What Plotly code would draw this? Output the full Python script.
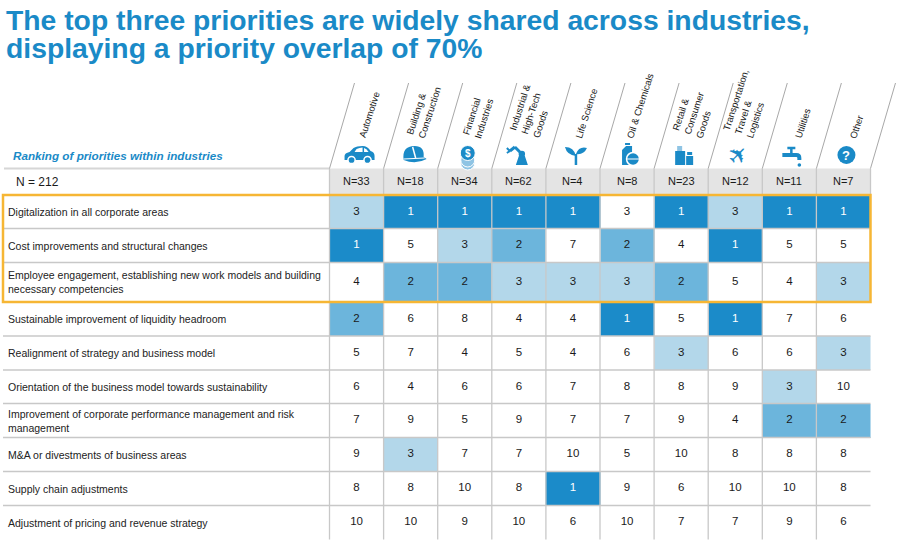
import re
import plotly.graph_objects as go

# ---- data ----
industries = ["Automotive", "Building &<br>Construction", "Financial<br>Industries",
              "Industrial &<br>High-Tech<br>Goods", "Life Science", "Oil & Chemicals",
              "Retail &<br>Consumer<br>Goods", "Transportation,<br>Travel &<br>Logistics",
              "Utilities", "Other"]
sample_sizes = [33, 18, 34, 62, 4, 8, 23, 12, 11, 7]
total_n = 212

priorities = [
    "Digitalization in all corporate areas",
    "Cost improvements and structural changes",
    "Employee engagement, establishing new work models and building<br>necessary competencies",
    "Sustainable improvement of liquidity headroom",
    "Realignment of strategy and business model",
    "Orientation of the business model towards sustainability",
    "Improvement of corporate performance management and risk<br>management",
    "M&A or divestments of business areas",
    "Supply chain adjustments",
    "Adjustment of pricing and revenue strategy",
]
# rank of each priority (rows) within each industry (columns)
ranks = [
    [3, 1, 1, 1, 1, 3, 1, 3, 1, 1],
    [1, 5, 3, 2, 7, 2, 4, 1, 5, 5],
    [4, 2, 2, 3, 3, 3, 2, 5, 4, 3],
    [2, 6, 8, 4, 4, 1, 5, 1, 7, 6],
    [5, 7, 4, 5, 4, 6, 3, 6, 6, 3],
    [6, 4, 6, 6, 7, 8, 8, 9, 3, 10],
    [7, 9, 5, 9, 7, 7, 9, 4, 2, 2],
    [9, 3, 7, 7, 10, 5, 10, 8, 8, 8],
    [8, 8, 10, 8, 1, 9, 6, 10, 10, 8],
    [10, 10, 9, 10, 6, 10, 7, 7, 9, 6],
]
# top-3 ranks that the source leaves unshaded (row, column)
unshaded = [(0, 5)]
top_group = 3  # first three priorities are framed

title_lines = ["The top three priorities are widely shared across industries,",
               "displaying a priority overlap of 70%"]
subtitle = "Ranking of priorities within industries"

# ---- layout constants (pixels) ----
W, H = 900, 543
X0, CW = 329.5, 54.1
TABLE_TOP = 195
ROW_H = [33.5, 34, 39.5, 34, 34, 33.5, 34, 34, 34, 34]
NROW_TOP, NROW_BOT = 168.5, 194
BLUE = "#1a8ac7"
DARK, MID, LIGHT = "#1b8bc9", "#6cb5dc", "#b3d7ea"
GRID = "#c8c8c8"
ORANGE = "#f6b634"
FONT = "Arial, Liberation Sans, sans-serif"

ncol = len(industries)
xe = [X0 + i * CW for i in range(ncol + 1)]
ye = [TABLE_TOP]
for h in ROW_H:
    ye.append(ye[-1] + h)
cx = [(xe[i] + xe[i + 1]) / 2 for i in range(ncol)]
cy = [(ye[j] + ye[j + 1]) / 2 for j in range(len(priorities))]

shade = [[10 if (j, i) in unshaded else r for i, r in enumerate(row)] for j, row in enumerate(ranks)]

fig = go.Figure()

# cells coloured by rank: 1 dark, 2 mid, 3 light, others white
colorscale = [[0, DARK], [0.055, DARK], [0.056, MID], [0.166, MID],
              [0.167, LIGHT], [0.277, LIGHT], [0.278, "white"], [1, "white"]]
fig.add_trace(go.Heatmap(x=xe, y=ye, z=shade, zmin=1, zmax=10, colorscale=colorscale,
                         showscale=False, hoverinfo="skip"))

tx, ty, tt, tc = [], [], [], []
for j, row in enumerate(ranks):
    for i, r in enumerate(row):
        tx.append(cx[i]); ty.append(cy[j]); tt.append(str(r))
        tc.append("white" if r == 1 else "#1a1a1a")
fig.add_trace(go.Scatter(x=tx, y=ty, text=tt, mode="text", hoverinfo="skip",
                         textfont=dict(family=FONT, size=11.5, color=tc)))

shapes = []
# N row band
shapes.append(dict(type="rect", x0=xe[0], x1=xe[-1], y0=NROW_TOP, y1=NROW_BOT,
                   fillcolor="#e4e4e4", line=dict(width=0), layer="below"))
shapes.append(dict(type="line", x0=4, x1=xe[0], y0=NROW_TOP, y1=NROW_TOP,
                   line=dict(color="#d6d6d6", width=2)))
# grid
for y in ye[1:-1]:
    shapes.append(dict(type="line", x0=3, x1=xe[-1], y0=y, y1=y, line=dict(color=GRID, width=1.3)))
for x in xe[:-1]:
    shapes.append(dict(type="line", x0=x, x1=x, y0=NROW_TOP, y1=ye[-1], line=dict(color=GRID, width=1.3)))
shapes.append(dict(type="line", x0=xe[-1], x1=xe[-1], y0=NROW_TOP, y1=NROW_BOT,
                   line=dict(color=GRID, width=1.3)))
# slanted header dividers
for x in xe:
    shapes.append(dict(type="line", x0=x, x1=x + 25, y0=NROW_TOP, y1=83,
                       line=dict(color="#a8a8a8", width=1)))
# frame round the top three
shapes.append(dict(type="rect", x0=3, x1=xe[-1], y0=ye[0], y1=ye[top_group],
                   line=dict(color=ORANGE, width=2.5)))


# ---- icons ----
def tp(cmd, ox, oy, s=1.0):
    toks = re.findall(r"[A-Za-z]|-?\d+\.?\d*", cmd)
    out, nums = [], []
    for t in toks:
        if t.isalpha():
            out.append(t)
        else:
            nums.append(float(t))
            if len(nums) == 2:
                out.append(f"{ox + nums[0] * s:.2f},{oy + nums[1] * s:.2f}")
                nums = []
    return " ".join(out)


def path(cmd, ox, oy, fill=BLUE, line_color=None, lw=0):
    shapes.append(dict(type="path", path=tp(cmd, ox, oy), fillcolor=fill,
                       line=dict(color=line_color or fill, width=lw)))


def circ(x, y, r, ox, oy, fill=BLUE, line_color=None, lw=0):
    shapes.append(dict(type="circle", x0=ox + x - r, x1=ox + x + r, y0=oy + y - r, y1=oy + y + r,
                       fillcolor=fill, line=dict(color=line_color or fill, width=lw)))


def seg(x0, y0, x1, y1, ox, oy, w=3, color=BLUE):
    shapes.append(dict(type="line", x0=ox + x0, y0=oy + y0, x1=ox + x1, y1=oy + y1,
                       line=dict(color=color, width=w)))


IY = 155
ix = [c + 3 for c in cx]
annotations = []

# car
o = ix[0]
path("M -15 5 L -15 1 Q -15 -2 -10 -3 L -6 -7 Q -3 -9 3 -9 Q 8 -9 11 -4 Q 15 -3 15 1 L 15 5 Z", o, IY)
path("M -5 -3 L -3 -6 Q 0 -7.5 3 -7.5 L 3 -3 Z", o, IY, fill="white")
path("M 4.5 -3 L 4.5 -7 Q 7 -6.5 9 -3 Z", o, IY, fill="white")
circ(-8, 5, 3.6, o, IY, line_color="white", lw=1.5)
circ(8, 5, 3.6, o, IY, line_color="white", lw=1.5)
# helmet
o = ix[1]
path("M -10 5 Q -12 -9 1 -9 Q 11 -9 10 2 L 13 4 Q 2 10 -10 5 Z", o, IY)
seg(-1, -8, 2, 3, o, IY, w=1.5, color="white")
seg(-10, 4, 11, 3, o, IY, w=1.2, color="white")
# coins
o = ix[2]
circ(0, 8, 7, o, IY, fill="#8fc4e4", line_color="white", lw=1)
circ(0, 5, 7, o, IY, fill="#8fc4e4", line_color="white", lw=1)
circ(0, -2, 7.5, o, IY, line_color="white", lw=1)
annotations.append(dict(x=o, y=IY - 2, text="<b>$</b>", showarrow=False,
                        font=dict(family=FONT, size=10, color="white")))
# robot arm
o = ix[3]
path("M -6 10 L -3 1 L 3 1 L 6 10 Z", o, IY)
circ(0, -1, 3.2, o, IY)
seg(0, -1, -7, -8, o, IY)
seg(-7, -8, -12, -4, o, IY)
seg(-12, -4, -15, -2, o, IY, w=2)
seg(-12, -4, -15, -7, o, IY, w=2)
# plant
o = ix[4]
seg(0, 10, 0, -1, o, IY, w=2.5)
path("M 0 1 Q -2 -8 -11 -8 Q -9 0 0 1 Z", o, IY)
path("M 0 -1 Q 3 -9 11 -7 Q 8 0 0 -1 Z", o, IY)
# oil & chemicals
o = ix[5]
path("M -8 10 L -8 -5 L -4 -9 L 2 -9 L 2 10 Z", o, IY)
seg(-5, -11, 0, -11, o, IY, w=2)
circ(3, 4, 6.5, o, IY, line_color="white", lw=1.5)
seg(-3, 4, 9, 4, o, IY, w=1, color="white")
# retail bags
o = ix[6]
path("M -7 -9 L -2 -9 L -2 -4 L -7 -4 Z", o, IY, fill="#8fc4e4")
path("M -9 -4 L 1 -4 L 1 10 L -9 10 Z", o, IY)
path("M 3 -3 L 8 -3 L 8 0 L 3 0 Z", o, IY)
path("M 2 1 L 9 1 L 9 10 L 2 10 Z", o, IY)
# airplane
annotations.append(dict(x=ix[7], y=IY, text="\u2708", showarrow=False, textangle=-45,
                        font=dict(family="DejaVu Sans", size=24, color=BLUE)))
# faucet
o = ix[8]
path("M -10 -2 L 4 -2 Q 9 -2 9 3 L 9 5 L 5 5 L 5 3 Q 5 2 4 2 L -10 2 Z", o, IY)
seg(-1, -2, -1, -7, o, IY, w=2.5)
seg(-5, -7, 3, -7, o, IY, w=2.5)
circ(7, 10, 1.8, o, IY)
# other
o = ix[9]
circ(0, 0, 9, o, IY)
annotations.append(dict(x=o, y=IY + 0.5, text="<b>?</b>", showarrow=False,
                        font=dict(family=FONT, size=13, color="white")))

# ---- texts ----
for k, line in enumerate(title_lines):
    annotations.append(dict(x=4, y=20 + 28 * k, text=f"<b>{line}</b>", showarrow=False,
                            xanchor="left", yanchor="middle",
                            font=dict(family=FONT, size=28.3, color=BLUE)))
annotations.append(dict(x=11, y=155, text=f"<b><i>{subtitle}</i></b>", showarrow=False,
                        xanchor="left", font=dict(family=FONT, size=11.7, color=BLUE)))
annotations.append(dict(x=14, y=182, text=f"N = {total_n}", showarrow=False,
                        xanchor="left", font=dict(family=FONT, size=12, color="#1a1a1a")))
for i, name in enumerate(industries):
    annotations.append(dict(x=cx[i] + 13, y=142, text=name, showarrow=False, textangle=-72,
                            xanchor="center", yanchor="bottom", align="left",
                            font=dict(family=FONT, size=9.5, color="#1a1a1a")))
    annotations.append(dict(x=cx[i], y=(NROW_TOP + NROW_BOT) / 2, text=f"N={sample_sizes[i]}",
                            showarrow=False, font=dict(family=FONT, size=11, color="#1a1a1a")))
for j, p in enumerate(priorities):
    annotations.append(dict(x=6, y=cy[j], text=p, showarrow=False, xanchor="left", align="left",
                            font=dict(family=FONT, size=10.5, color="#222222")))

fig.update_layout(
    width=W, height=H, margin=dict(l=0, r=0, t=0, b=0),
    paper_bgcolor="white", plot_bgcolor="white", showlegend=False,
    xaxis=dict(range=[0, W], visible=False, fixedrange=True),
    yaxis=dict(range=[H, 0], visible=False, fixedrange=True),
    shapes=shapes, annotations=annotations,
)

fig.write_html("out.html", config={"displayModeBar": False},
               post_script="document.body.style.margin='0';")
